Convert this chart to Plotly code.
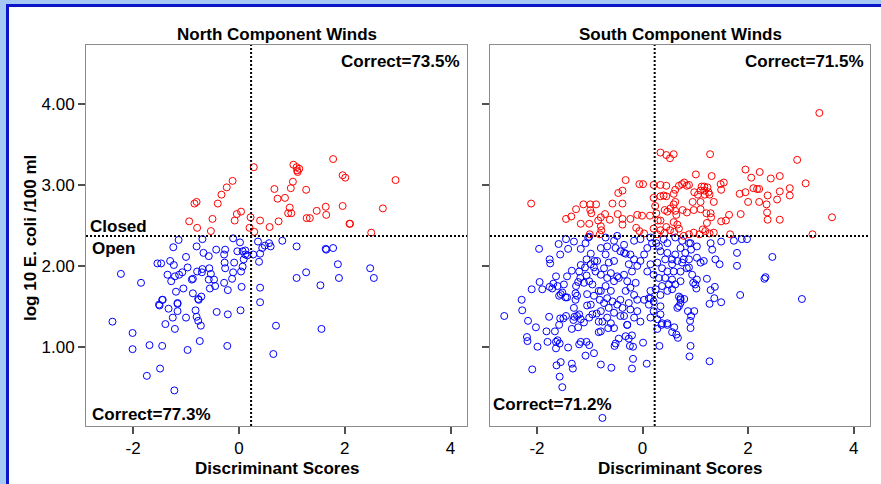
import plotly.graph_objects as go

# ---------------- data ----------------
north_closed_x = [1.78, 0.28, 1.03, 1.09, 1.14, 1.11, 1.10, 1.96, 2.01, 2.96, -0.12, -0.23, -0.33, -0.40,
                  -0.84, -0.80, 0.67, 0.73, 0.87, 0.98, 1.02, 1.27, 0.96, 0.93, 0.99, 1.47, 1.64, 1.65,
                  1.96, 2.72, 1.28, 1.34, 2.09, 2.10, 2.50, -0.04, 0.04, -0.08, -0.50, -0.94, -0.79, -0.53,
                  0.22, 0.20, 0.29, 0.40, 0.58, 0.75]
north_closed_y = [3.32, 3.22, 3.25, 3.22, 3.20, 3.16, 3.18, 3.12, 3.09, 3.06, 3.05, 2.97, 2.88, 2.77,
                  2.77, 2.79, 2.95, 2.83, 2.84, 2.96, 3.04, 2.94, 2.72, 2.65, 2.65, 2.68, 2.73, 2.63,
                  2.74, 2.71, 2.59, 2.59, 2.52, 2.52, 2.41, 2.64, 2.67, 2.56, 2.58, 2.55, 2.47, 2.43,
                  2.60, 2.47, 2.42, 2.56, 2.48, 2.55]

north_open_x = [-1.14, -1.24, -0.69, -0.80, -0.67, -0.57, -0.11, 0.02, -0.43, -0.26, -0.28, -0.03, 0.07,
                0.12, 0.12, 0.09, 0.16, 0.27, 0.40, 0.36, 0.44, 0.49, 0.57, 0.60, 0.82, 1.09, 1.64, 1.65,
                1.78, 0.38, -1.54, -1.47, -1.30, -1.23, -0.97, -1.00, -2.23, -1.85, -1.35, -1.28, -1.21,
                -1.13, -1.07, -1.19, -1.05, -0.79, -0.69, -0.70, -0.56, -0.26, -0.27, -0.09, 0.07, 0.04,
                -0.11, -0.13, -0.28, -0.21, 0.05, -0.47, -0.53, -0.57, -0.55, -0.45, -0.87, -0.89, -0.87,
                -0.71, -0.77, -1.44, -1.50, -1.33, -1.16, -1.16, -1.25, -1.21, -1.39, -1.00, -0.82, -0.80,
                -0.77, -0.72, -0.42, -0.21, 0.03, 0.40, 0.40, -2.39, -2.01, -2.01, -1.69, -1.45, -1.49,
                -1.74, -1.22, -0.97, -0.74, -0.22, 0.70, 0.65, 1.09, 1.27, 1.54, 1.56, 1.87, 1.89, 2.48,
                2.55, -1.16, -1.51, -1.45, -0.76]
north_open_y = [2.32, 2.23, 2.33, 2.24, 2.16, 2.12, 2.34, 2.29, 2.20, 2.20, 2.14, 2.18, 2.18,
                2.19, 2.14, 2.08, 2.13, 2.14, 2.15, 2.30, 2.22, 2.25, 2.28, 2.24, 2.31, 2.24, 2.21, 2.20,
                2.22, 2.05, 2.03, 2.03, 2.06, 2.01, 1.98, 2.11, 1.90, 1.79, 1.89, 1.81, 1.87,
                1.89, 1.92, 1.68, 1.72, 1.93, 1.96, 1.92, 1.97, 1.97, 2.04, 2.04, 1.99, 1.93,
                1.92, 1.84, 1.79, 1.70, 1.74, 1.83, 1.90, 1.83, 1.72, 1.75, 1.84, 1.83, 1.66,
                1.62, 1.59, 1.58, 1.51, 1.47, 1.53, 1.44, 1.36, 1.22, 1.28, 1.36, 1.45, 1.37,
                1.32, 1.26, 1.43, 1.40, 1.45, 1.73, 1.55, 1.31, 1.17, 0.97, 1.02, 1.01, 0.73,
                0.64, 0.46, 0.96, 1.07, 1.01, 1.26, 0.91, 1.85, 1.92, 1.76, 1.22, 2.02, 1.85, 1.97,
                1.85, 1.54, 1.52, 1.58, 1.58]

south_closed_x = [-2.11, -0.32, -0.06, 0.01, 0.21, -0.46, -0.38, 0.21, -1.12, -0.99, -0.88, -1.26, -0.57,
                  -0.38, -0.99, -0.97, -1.35, -1.45, -0.71, -0.79, -0.84, -0.79, -0.78, -0.62, -0.47, -0.38,
                  -0.38, -0.23, -0.10, -0.01, 0.14, 0.24, 0.26, 0.29, -1.00, -0.81, -0.06, 0.03, 0.28, 0.21,
                  -0.12, -1.17, -1.01,
                  3.35, 0.34, 0.45, 0.52, 0.59, 1.28, 2.93, 1.95, 2.22, 2.06, 2.43, 2.60, 1.01, 1.31, 3.09,
                  0.34, 0.45, 0.75, 0.79, 0.88, 0.84, 0.69, 0.62, 1.48, 1.54, 1.49, 1.12, 1.17, 1.23, 1.10,
                  1.17, 1.25, 1.18, 1.27, 1.35, 0.98, 1.05, 0.95, 1.10, 2.10, 2.17, 2.21, 1.84, 1.95, 2.37,
                  2.60, 2.79, 2.00, 2.21, 2.35, 2.55, 2.79, 2.36, 2.37, 2.60, 1.86, 1.64, 1.58, 1.49, 3.59,
                  3.22, 1.66, 0.34, 0.40, 0.45, 0.59, 0.62, 0.59, 0.53, 0.62, 0.64, 0.42, 0.47, 0.76, 0.84,
                  0.97, 1.10, 1.21, 1.29, 1.30, 1.22, 0.34, 0.45, 0.59, 0.66, 0.69, 0.34, 0.42, 0.52, 0.60,
                  1.14, 1.19, 1.27, 1.35, 0.97, 1.08, 0.78, 0.88]
south_closed_y = [2.77, 3.06, 3.01, 3.01, 3.00, 2.90, 2.93, 2.84, 2.76, 2.76, 2.76, 2.70, 2.77,
                  2.77, 2.69, 2.65, 2.61, 2.58, 2.64, 2.60, 2.56, 2.49, 2.44, 2.57, 2.64, 2.58,
                  2.51, 2.58, 2.63, 2.62, 2.62, 2.74, 2.65, 2.56, 2.39, 2.39, 2.43, 2.40, 2.39, 2.46,
                  2.47, 2.52, 2.52,
                  3.89, 3.40, 3.37, 3.33, 3.38, 3.38, 3.31, 3.19, 3.16, 3.09, 3.08, 3.11, 3.13, 3.11, 3.02,
                  3.00, 2.99, 3.01, 3.03, 3.00, 2.99, 2.99, 2.94, 3.01, 3.03, 2.94, 2.98, 2.98, 2.97, 2.93,
                  2.93, 2.91, 2.88, 2.88, 2.79, 2.91, 2.88, 2.79, 2.79, 2.96, 2.95, 2.95, 2.89, 2.91, 2.87,
                  2.92, 2.96, 2.79, 2.79, 2.76, 2.82, 2.87, 2.66, 2.57, 2.57, 2.64, 2.63, 2.56, 2.55, 2.60,
                  2.39, 2.39, 2.86, 2.87, 2.86, 2.89, 2.79, 2.76, 2.71, 2.68, 2.63, 2.69, 2.67, 2.69, 2.66,
                  2.69, 2.70, 2.65, 2.65, 2.60, 2.53, 2.56, 2.48, 2.54, 2.51, 2.46, 2.44, 2.41, 2.44, 2.42,
                  2.45, 2.43, 2.40, 2.41, 2.41, 2.39, 2.37, 2.39]

south_open_x = [-1.96, -1.59, -1.45, -1.30, -1.41, -1.56, -1.17, -1.08, -1.03, -0.98, -0.91, -1.76, -1.75,
                -1.01, -1.17, -1.06, -1.09, -0.98, -0.92, -0.86, -0.89, -1.34, -1.43, -1.18, -1.22, -1.11,
                -1.26, -1.01, -0.95, -1.06, -1.20, -1.64, -1.69, -1.61, -1.71, -1.55, -1.52, -1.58, -1.46,
                -1.43, -1.27, -1.24, -1.27, -1.95, -1.90, -2.10, -1.76, -1.49, -1.05, -0.92, -0.83, -0.81,
                -0.98, -1.05, -2.29, -2.28, -2.62, -1.77, -1.56, -1.50, -1.45, -1.30, -1.29, -1.24, -1.20,
                -1.31, -1.17, -1.11, -1.01, -0.95, -0.87, -0.83, -2.17, -1.58,
                -0.70, -0.54, -0.48, -0.35, -0.16, -0.04, 0.15, 0.26, 0.40, 0.47, 0.62, 0.75, 0.88, 1.03,
                1.29, 1.49, 1.73, 1.88, 1.98, 1.79, 1.32, 1.38, 1.46, 1.79, 2.46, 2.33, 2.31, 3.02, 1.85,
                1.22, 1.00, 1.02, 1.29, 1.37, 1.36, 1.49, 1.27, 0.72, 0.79, 0.69, 0.72, 0.86, 0.92, 0.90,
                0.98, 0.94, 1.03, 0.96, 0.88, 0.88, 1.10, 1.16, 1.03,
                -0.79, -0.67, -0.51, -0.42, -0.32, -0.70, -0.54, -0.64, -0.73, -0.79, -0.60, -0.48, -0.67,
                -0.54, -0.70, -0.79, -0.60, -0.67, -0.73, -0.57, -0.48, -0.64, -0.79, -0.54, -0.42, -0.67,
                -0.76, -0.60, -0.35, -0.23, -0.16, -0.26, -0.10, -0.04, 0.03, -0.20, -0.35, -0.45, -0.29,
                -0.13, -0.23, -0.32, -0.16, -0.10, -0.26, -0.42, -0.38, -0.23, -0.10, -0.35, -0.16, -0.04,
                -0.29, 0.09, 0.18, 0.31, 0.34, 0.47, 0.43, 0.56, 0.62, 0.66, 0.56, 0.75, 0.78, 0.84, 0.72,
                0.59, 0.47, 0.37, 0.28, 0.15, 0.09, 0.21, 0.31, 0.43, 0.56, 0.72, 0.62, 0.50, 0.37, 0.25,
                0.15, 0.12, 0.21, 0.34, 0.47, 0.56, 0.69, 0.72, 0.66, 0.34, 0.21, 0.15, 0.28, 0.37, 0.47,
                0.34, 0.03, 0.15, 0.12, 0.72, 0.91, 0.92, 0.81,
                -2.19, -2.18, -1.99, -2.02, -1.82, -1.66, -1.80, -1.64, -1.61, -1.64, -1.57, -1.41, -1.34,
                -1.22, -1.20, -1.17, -1.06, -1.01, -0.92, -0.83, -1.08, -2.09, -1.63, -1.55, -1.34, -1.32,
                -1.57, -1.52, -0.79,
                -0.79, -0.65, -0.54, -0.29, -0.51, -0.53, -0.45, -0.32, -0.26, -0.20, -0.18, -0.24, 0.01,
                -0.59, -0.20, -0.18, 0.08, 0.28, 0.36, 0.47, 0.60, 0.56, 0.64, 0.67, 0.91, 0.32, 0.91,
                0.89, 1.27, -0.76]
south_open_y = [2.21, 2.27, 2.33, 2.30, 2.21, 2.14, 2.21, 2.28, 2.35, 2.15, 2.06, 2.08, 2.03,
                2.36, 2.01, 2.08, 1.98, 2.02, 1.98, 2.06, 1.93, 1.94, 1.87, 1.85, 1.80, 1.79,
                1.75, 1.81, 1.77, 1.88, 1.93, 1.87, 1.78, 1.75, 1.72, 1.65, 1.67, 1.63, 1.61,
                1.61, 1.66, 1.63, 1.58, 1.80, 1.71, 1.71, 1.74, 1.77, 1.65, 1.63, 1.69, 1.58,
                1.52, 1.51, 1.58, 1.45, 1.38, 1.37, 1.35, 1.35, 1.38, 1.48, 1.37, 1.38, 1.40,
                1.33, 1.34, 1.30, 1.36, 1.40, 1.41, 1.31, 1.32, 1.27,
                2.35, 2.31, 2.37, 2.26, 2.31, 2.33, 2.35, 2.28, 2.33, 2.28, 2.35, 2.31, 2.28, 2.24,
                2.28, 2.30, 2.31, 2.33, 2.33, 2.16, 2.20, 2.08, 2.02, 2.00, 2.11, 1.86, 1.84, 1.59, 1.64,
                1.84, 1.77, 1.72, 1.70, 1.74, 1.60, 1.55, 1.53, 1.60, 1.59, 1.50, 1.54, 1.44, 1.38, 1.32,
                1.44, 1.89, 1.83, 1.79, 1.98, 2.08, 2.04, 2.06, 2.10,
                2.22, 2.24, 2.22, 2.18, 2.15, 2.14, 2.06, 2.04, 1.97, 1.89, 1.91, 1.87, 1.85,
                1.81, 1.75, 1.69, 1.69, 1.60, 1.54, 1.56, 1.52, 1.48, 1.44, 1.42, 1.38, 1.36,
                1.31, 1.29, 2.16, 2.14, 2.08, 2.02, 2.00, 2.06, 2.14, 1.93, 1.89, 1.85, 1.81,
                1.79, 1.73, 1.69, 1.64, 1.58, 1.54, 1.58, 1.48, 1.46, 1.44, 1.38, 1.36, 1.31,
                1.27, 2.22, 2.28, 2.24, 2.18, 2.16, 2.08, 2.08, 2.14, 2.06, 2.02, 2.04, 2.08, 1.97, 1.93,
                1.93, 1.93, 1.97, 2.04, 2.02, 1.93, 1.89, 1.85, 1.85, 1.83, 1.81, 1.77, 1.77, 1.75, 1.71,
                1.69, 1.60, 1.56, 1.64, 1.69, 1.71, 1.62, 1.58, 1.48, 1.50, 1.44, 1.36, 1.34, 1.29, 1.29,
                1.40, 1.58, 1.60, 1.52, 2.22, 2.28, 2.20, 2.16,
                1.12, 1.07, 1.00, 1.24, 1.19, 1.19, 1.06, 1.06, 1.08, 0.98, 1.04, 0.99, 1.22,
                1.24, 1.03, 1.06, 1.06, 1.02, 0.92, 1.18, 0.89, 0.72, 0.77, 0.81, 0.79, 0.73,
                0.63, 0.50, 0.78,
                1.19, 1.23, 1.23, 1.27, 1.04, 1.01, 1.10, 1.13, 1.10, 1.14, 1.00, 1.01, 1.05,
                0.74, 0.73, 0.85, 0.79, 1.22, 1.27, 1.27, 1.24, 1.18, 1.15, 1.11, 1.23, 1.01, 1.01,
                0.88, 0.82, 0.12]

x_ticks = [-2, 0, 2, 4]
x_ticktext = ["-2", "0", "2", "4"]
y_ticks = [1, 2, 3, 4]
y_ticktext = ["1.00", "2.00", "3.00", "4.00"]
cut_score = 0.23          # discriminant cut-off
threshold = 2.37          # log10(235) closed/open limit
panel_titles = ["North Component Winds", "South Component Winds"]
correct_top = ["Correct=73.5%", "Correct=71.5%"]
correct_bottom = ["Correct=77.3%", "Correct=71.2%"]

# ---------------- figure ----------------
FONT = "Arial, Liberation Sans, sans-serif"
RED = "#ff0000"
BLUE = "#0000ff"

fig = go.Figure()

def add_pts(x, y, color, xa, ya):
    fig.add_trace(go.Scatter(
        x=x, y=y, mode="markers", xaxis=xa, yaxis=ya, showlegend=False,
        marker=dict(symbol="circle-open", size=7, color=color, line=dict(width=1, color=color)),
    ))

add_pts(north_open_x, north_open_y, BLUE, "x", "y")
add_pts(north_closed_x, north_closed_y, RED, "x", "y")
add_pts(south_open_x, south_open_y, BLUE, "x2", "y2")
add_pts(south_closed_x, south_closed_y, RED, "x2", "y2")

W, H = 881, 484
ML, MR, MT, MB = 86, 11, 45, 58
PW = W - ML - MR
PH = H - MT - MB

def px(xp):
    return (xp - ML) / PW

def py(yp):
    return (H - MB - yp) / PH

axis_common = dict(
    showline=True, linecolor="#8c8c8c", linewidth=1, mirror=True,
    ticks="outside", ticklen=7, tickwidth=2, tickcolor="#505050",
    showgrid=False, zeroline=False,
    tickfont=dict(family=FONT, size=17, color="#000000"),
)

fig.update_layout(
    width=W, height=H,
    margin=dict(l=ML, r=MR, t=MT, b=MB),
    paper_bgcolor="white", plot_bgcolor="white",
    font=dict(family=FONT, size=17, color="#000000"),
    xaxis=dict(domain=[0, px(467)], range=[-2.89, 4.31], tickvals=x_ticks, ticktext=x_ticktext,
               anchor="y", **axis_common),
    yaxis=dict(domain=[0, 1], range=[0.02, 4.73], tickvals=y_ticks, ticktext=y_ticktext,
               anchor="x", **axis_common),
    xaxis2=dict(domain=[px(490), 1], range=[-2.89, 4.31], tickvals=x_ticks, ticktext=x_ticktext,
                anchor="y2", **axis_common),
    yaxis2=dict(domain=[0, 1], range=[0.02, 4.73], tickvals=y_ticks, showticklabels=False,
                anchor="x2", **axis_common),
)

shapes = []
for xr, yr in (("x", "y"), ("x2", "y2")):
    shapes.append(dict(type="line", xref=xr, yref=yr + " domain", x0=cut_score, x1=cut_score, y0=0, y1=1,
                       line=dict(color="#000000", width=2, dash="2px,2px")))
    shapes.append(dict(type="line", xref=xr + " domain", yref=yr, x0=0, x1=1, y0=threshold, y1=threshold,
                       line=dict(color="#000000", width=2, dash="2px,2px")))

# window frame (light blue border with dark blue edge)
LB = "#a6c8f4"
DB = "#0a14c8"
shapes += [
    dict(type="rect", xref="paper", yref="paper", x0=px(0), x1=px(6), y0=py(H), y1=py(0),
         fillcolor=LB, line=dict(width=0), layer="above"),
    dict(type="rect", xref="paper", yref="paper", x0=px(0), x1=px(W), y0=py(4), y1=py(0),
         fillcolor=LB, line=dict(width=0), layer="above"),
    dict(type="rect", xref="paper", yref="paper", x0=px(6), x1=px(9), y0=py(H), y1=py(4),
         fillcolor=DB, line=dict(width=0), layer="above"),
    dict(type="rect", xref="paper", yref="paper", x0=px(6), x1=px(W), y0=py(7), y1=py(4),
         fillcolor=DB, line=dict(width=0), layer="above"),
]
fig.update_layout(shapes=shapes)

bold = dict(family=FONT, size=17, color="#000000")
ann = []
for i, (xr, yr) in enumerate((("x", "y"), ("x2", "y2"))):
    ann.append(dict(text="<b>%s</b>" % panel_titles[i], xref=xr + " domain", yref=yr + " domain",
                    x=0.5, y=(426 - 35) / 381, xanchor="center", yanchor="middle", showarrow=False, font=bold))
    ann.append(dict(text="<b>Discriminant Scores</b>", xref=xr + " domain", yref=yr + " domain",
                    x=0.5, y=(426 - 468) / 381, xanchor="center", yanchor="middle", showarrow=False, font=bold))

# correct-classification labels
ann.append(dict(text="<b>%s</b>" % correct_top[0], xref="x domain", yref="y domain",
                x=(462 - 86) / 381, y=(426 - 61) / 381, xanchor="right", yanchor="middle",
                showarrow=False, font=bold))
ann.append(dict(text="<b>%s</b>" % correct_bottom[0], xref="x domain", yref="y domain",
                x=(90 - 86) / 381, y=(426 - 414) / 381, xanchor="left", yanchor="middle",
                showarrow=False, font=bold))
ann.append(dict(text="<b>%s</b>" % correct_top[1], xref="x2 domain", yref="y2 domain",
                x=(866 - 490) / 380, y=(426 - 62) / 381, xanchor="right", yanchor="middle",
                showarrow=False, font=bold))
ann.append(dict(text="<b>%s</b>" % correct_bottom[1], xref="x2 domain", yref="y2 domain",
                x=(490.5 - 490) / 380, y=(426 - 404) / 381, xanchor="left", yanchor="middle",
                showarrow=False, font=bold))
ann.append(dict(text="<b>Closed</b>", xref="x domain", yref="y domain",
                x=(88 - 86) / 381, y=(426 - 226) / 381, xanchor="left", yanchor="middle",
                showarrow=False, font=bold))
ann.append(dict(text="<b>Open</b>", xref="x domain", yref="y domain",
                x=(90 - 86) / 381, y=(426 - 249) / 381, xanchor="left", yanchor="middle",
                showarrow=False, font=bold))
# y-axis title
ann.append(dict(text="<b>log 10 E. coli /100 ml</b>", xref="paper", yref="paper",
                x=px(30), y=py(238), xanchor="center", yanchor="middle", textangle=-90,
                showarrow=False, font=bold))
fig.update_layout(annotations=ann)

fig.write_html("out.html", config={"displayModeBar": False},
               post_script="document.body.style.margin='0px';document.body.style.overflow='hidden';")
